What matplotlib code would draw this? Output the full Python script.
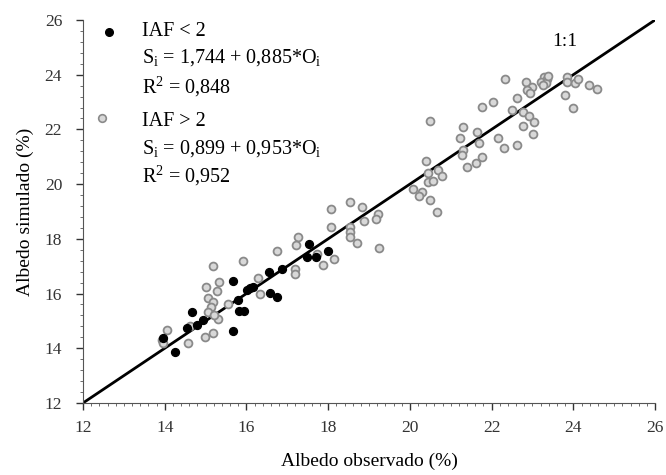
import matplotlib
matplotlib.use("Agg")
import matplotlib.pyplot as plt
from matplotlib.ticker import MultipleLocator

plt.rcParams['font.family'] = ['Liberation Serif', 'DejaVu Serif']
plt.rcParams['mathtext.fontset'] = 'custom'
plt.rcParams['mathtext.rm'] = 'Liberation Serif'
plt.rcParams['mathtext.it'] = 'Liberation Serif:italic'

# IAF < 2 (black dots)
obs_low = [17.54, 17.47, 17.70, 17.99, 16.54, 16.86, 15.68, 16.01, 16.09, 16.17,
           16.58, 16.74, 15.80, 15.82, 15.95, 14.66, 14.54, 14.78, 14.94, 15.68,
           13.97, 14.25]
sim_low = [17.81, 17.35, 17.33, 17.57, 16.80, 16.89, 16.46, 16.13, 16.19, 16.25,
           16.01, 15.89, 15.77, 15.38, 15.38, 15.34, 14.75, 14.85, 15.03, 14.63,
           14.37, 13.88]

# IAF > 2 (grey circles)
obs_high = [15.17, 15.91, 15.33, 15.01, 15.27, 16.29, 16.33, 15.07, 15.19, 15.13,
            15.07, 15.31, 14.62, 14.05, 13.93, 13.97, 15.19, 14.99, 14.58, 15.56,
            15.20,
            16.74, 17.27, 17.21, 17.19, 17.19, 18.07, 18.53, 18.84, 19.23, 19.16,
            18.88, 18.53, 18.53, 18.53, 18.06, 18.70, 19.25, 17.72, 18.14, 17.87,
            20.49, 20.39, 20.45, 20.70, 20.79, 20.44, 20.56, 20.08, 20.30, 20.22,
            20.49, 20.66,
            21.31, 21.65, 21.23, 21.70, 22.16, 22.31, 22.61, 21.30, 21.27, 21.77,
            21.62, 21.39, 22.33, 22.84, 22.98, 22.86, 22.94, 22.61, 22.03, 21.76,
            22.49, 22.78, 22.92, 23.04, 23.02, 22.76, 23.80, 23.98, 23.85, 23.85,
            24.04, 24.12, 24.39, 24.57, 23.28, 23.36, 23.22, 23.33, 23.25, 23.38]
sim_high = [17.01, 17.19, 16.41, 16.25, 16.11, 16.58, 15.99, 15.83, 15.70, 15.52,
            15.34, 15.07, 14.82, 14.67, 14.30, 14.18, 14.55, 14.42, 14.18, 15.62,
            15.20,
            17.57, 18.05, 17.78, 16.89, 16.72, 19.08, 19.34, 19.18, 18.91, 18.73,
            18.66, 18.45, 18.24, 18.06, 18.45, 17.84, 17.66, 17.46, 17.25, 17.06,
            22.32, 20.84, 20.40, 20.53, 20.29, 20.07, 20.13, 19.82, 19.70, 19.58,
            19.42, 18.97,
            22.08, 21.92, 21.68, 21.49, 21.70, 21.31, 21.43, 21.25, 21.07, 21.00,
            20.76, 20.64, 23.84, 23.75, 23.54, 23.44, 23.32, 23.16, 23.01, 22.83,
            22.72, 22.65, 22.50, 22.28, 21.83, 22.13, 23.26, 22.80, 23.91, 23.75,
            23.69, 23.83, 23.61, 23.48, 23.90, 23.85, 23.75, 23.70, 23.62, 23.95]

one_to_one = [12, 26]

fig = plt.figure(figsize=(6.66, 4.75), dpi=100)
ax = fig.add_axes([0.1246, 0.1516, 0.859, 0.8064])

ax.plot(one_to_one, one_to_one, color='black', lw=2, zorder=2)
ax.scatter(obs_high, sim_high, s=32, facecolor='#d8d8d8', edgecolor='#8a8a8a',
           linewidths=1.3, zorder=3)
ax.scatter(obs_low, sim_low, s=32, color='black', zorder=4)

ax.set_xlim(12, 26)
ax.set_ylim(12, 26)
ax.xaxis.set_major_locator(MultipleLocator(2))
ax.yaxis.set_major_locator(MultipleLocator(2))
ax.xaxis.set_minor_locator(MultipleLocator(0.2))
ax.yaxis.set_minor_locator(MultipleLocator(0.4))
ax.tick_params(which='major', direction='out', length=5, width=1, labelsize=12.5,
               colors='#333333')
ax.tick_params(axis='y', which='major', pad=10)
ax.tick_params(axis='x', which='major', pad=7)
ax.tick_params(which='minor', direction='out', length=2, width=0.6, colors='#555555')
for side in ['top', 'right']:
    ax.spines[side].set_visible(False)
ax.spines['left'].set_color('#555555')
ax.spines['bottom'].set_color('#555555')

ax.set_xlabel('Albedo observado (%)', fontsize=14, labelpad=12)
ax.set_ylabel('Albedo simulado (%)', fontsize=14, labelpad=8)

ax.text(23.8, 25.2, '1:1', fontsize=14, ha='center', va='center')

# legend block
tr = ax.transAxes
ax.plot([0.045], [0.968], 'o', color='black', ms=5.5, transform=tr, clip_on=False)
ax.plot([0.034], [0.743], 'o', mfc='#d8d8d8', mec='#8a8a8a', mew=1.2, ms=5.5,
        transform=tr, clip_on=False)
fs = 14.5
ax.text(0.103, 0.969, 'IAF < 2', fontsize=fs, transform=tr, va='center')
ax.text(0.103, 0.901, r'S$_\mathrm{i}$ = 1,744 + 0,885*O$_\mathrm{i}$', fontsize=fs,
        transform=tr, va='center')
ax.text(0.103, 0.826, r'R$^\mathrm{2}$ = 0,848', fontsize=fs, transform=tr, va='center')
ax.text(0.103, 0.734, 'IAF > 2', fontsize=fs, transform=tr, va='center')
ax.text(0.103, 0.665, r'S$_\mathrm{i}$ = 0,899 + 0,953*O$_\mathrm{i}$', fontsize=fs,
        transform=tr, va='center')
ax.text(0.103, 0.593, r'R$^\mathrm{2}$ = 0,952', fontsize=fs, transform=tr, va='center')

fig.savefig('out.png', dpi=100)
